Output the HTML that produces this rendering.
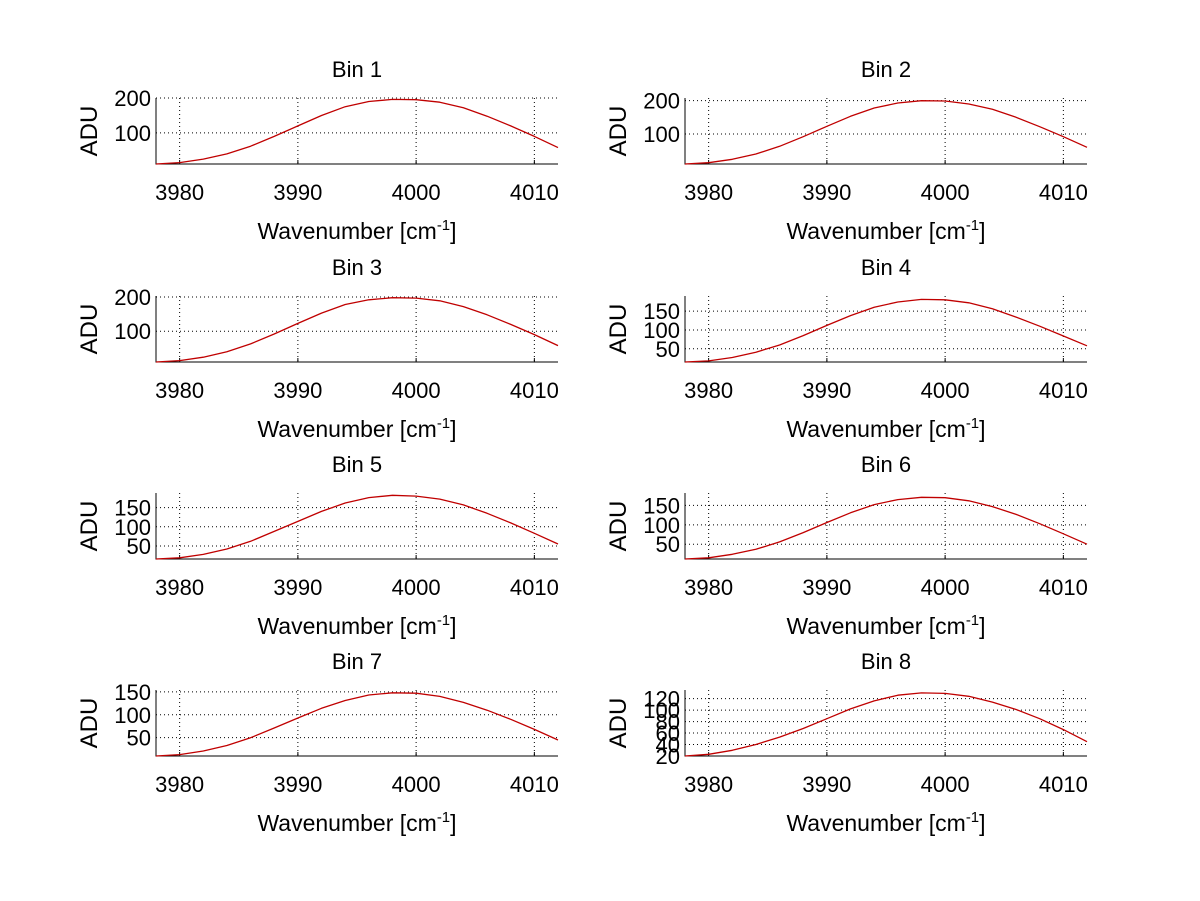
<!DOCTYPE html>
<html><head><meta charset="utf-8"><style>
html,body{margin:0;padding:0;background:#fff;}
svg{display:block;font-family:"Liberation Sans",sans-serif;}
</style></head><body>
<svg id="fig" width="1200" height="901" viewBox="0 0 1200 901"></svg>
<script>
const xs = [3978,3980,3982,3984,3986,3988,3990,3992,3994,3996,3998,4000,4002,4004,4006,4008,4010,4012];
const xTicks = [3980,3990,4000,4010];
const titles = ["Bin 1","Bin 2","Bin 3","Bin 4","Bin 5","Bin 6","Bin 7","Bin 8"];
const bin1 = [11,15,25,40,62,90,120,150,175,190,196,195,188,172,148,120,90,58];
const bin2 = [10,14,24,40,63,92,123,153,178,193,200,199,190,174,150,122,92,60];
const bin3 = [10,14,24,40,63,92,123,153,178,192,198,197,189,172,148,120,90,58];
const bin4 = [15,18,27,41,60,85,112,138,160,174,181,180,172,156,134,110,84,58];
const bin5 = [16,19,28,42,62,88,114,140,162,176,182,180,172,157,135,110,83,55];
const bin6 = [12,15,24,37,56,80,106,131,152,165,171,170,162,147,127,103,77,50];
const bin7 = [10,13,21,33,50,71,93,114,131,143,148,147,140,127,110,90,68,45];
const bin8 = [20,23,30,40,53,68,85,102,116,126,130,129,124,114,101,85,66,45];
const series = [bin1,bin2,bin3,bin4,bin5,bin6,bin7,bin8];
const yTicks = [[100,200],[100,200],[100,200],[50,100,150],[50,100,150],[50,100,150],[50,100,150],[20,40,60,80,100,120]];
const yRanges = [[11,200],[10,208],[10,203],[15,190],[16,188],[12,182],[10,154],[20,135]];

const NS="http://www.w3.org/2000/svg";
const svg=document.getElementById('fig');
function mk(tag,attrs,parent){const e=document.createElementNS(NS,tag);for(const k in attrs)e.setAttribute(k,attrs[k]);(parent||svg).appendChild(e);return e;}
const colX=[156,685], W=402, H=66, rowY=[98,296,493,690];
const X0=3978, X1=4012;
for(let i=0;i<8;i++){
  const L=colX[i%2], T=rowY[Math.floor(i/2)];
  const g=mk('g',{});
  
  
  const [y0,y1]=yRanges[i];
  const sx=v=>L+(v-X0)/(X1-X0)*W;
  const sy=v=>T+H-(v-y0)/(y1-y0)*H;
  xTicks.forEach(t=>{
    const ln=mk('line',{x1:sx(t),x2:sx(t),y1:T,y2:T+H,stroke:'#000','stroke-width':1,'stroke-dasharray':'1,3'},g);
    
    
    mk('line',{x1:sx(t),x2:sx(t),y1:T+H,y2:T+H-4,stroke:'#000'},g);
    const tx=mk('text',{x:sx(t),y:T+H+36,'font-size':22,'text-anchor':'middle'},g);
    tx.textContent=t;
    
    
  });
  yTicks[i].forEach(t=>{
    const ln=mk('line',{x1:L,x2:L+W,y1:sy(t),y2:sy(t),stroke:'#000','stroke-width':1,'stroke-dasharray':'1,3'},g);
    
    
    const tx=mk('text',{x:L-5,y:sy(t)+8,'font-size':22,'text-anchor':'end'},g);
    tx.textContent=t;
    
    
  });
  const ax=mk('path',{d:`M${L},${T}V${T+H}H${L+W}`,fill:'none',stroke:'#000','stroke-width':1},g);
  
  
  const pts=xs.map((x,j)=>sx(x).toFixed(1)+','+sy(series[i][j]).toFixed(1)).join(' ');
  const pl=mk('polyline',{points:pts,fill:'none',stroke:'#c00000','stroke-width':1.3,'stroke-linejoin':'round'},g);
  
  
  const ti=mk('text',{x:L+W/2,y:T-21,'font-size':22,'text-anchor':'middle'},g);
  ti.textContent=titles[i];
  
  
  const yl=mk('text',{x:0,y:0,'font-size':24,'text-anchor':'middle',transform:`translate(${L-59},${T+H/2}) rotate(-90)`},g);
  yl.textContent='ADU';
  
  
  const xl=mk('text',{x:L+W/2,y:T+H+75,'font-size':23,'text-anchor':'middle'},g);
  xl.innerHTML='Wavenumber [cm<tspan dy="-9" font-size="15">-1</tspan><tspan dy="9">]</tspan>';
  
  
}
</script>
</body></html>
